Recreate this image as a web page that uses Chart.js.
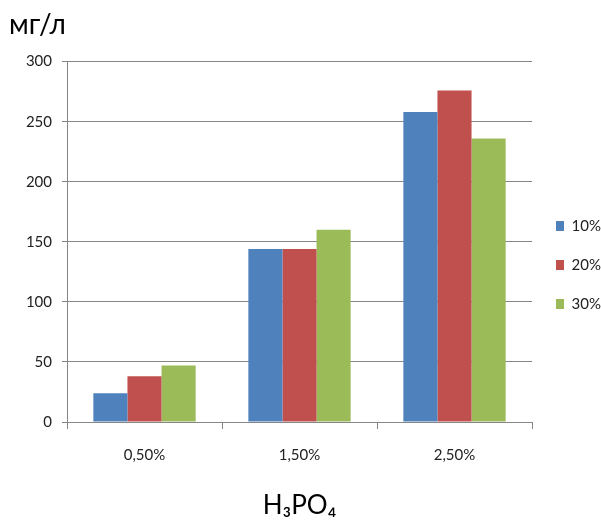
<!DOCTYPE html>
<html>
<head>
<meta charset="utf-8">
<script src="https://cdn.jsdelivr.net/npm/chart.js@4/dist/chart.umd.min.js"></script>
<style>
  html, body { margin: 0; padding: 0; background: #fff; }
  #wrap { width: 601px; height: 520px; }
</style>
</head>
<body>
<div id="wrap"><canvas id="chart"></canvas></div>
<script>
// данные диаграммы
const categories = ['0,50%', '1,50%', '2,50%'];
const seriesNames = ['10%', '20%', '30%'];
const values10 = [24, 144, 258];
const values20 = [38, 144, 276];
const values30 = [47, 160, 236];
const yTicks = [0, 50, 100, 150, 200, 250, 300];

const colors = ['#4F81BD', '#C0504D', '#9BBB59'];
const fontFamily = 'Lato, "Open Sans", "DejaVu Sans", sans-serif';
const gridColor = '#868686';

const ctx = document.getElementById('chart').getContext('2d');

new Chart(ctx, {
    type: 'bar',
    data: {
        labels: categories,
        datasets: [values10, values20, values30].map((vals, i) => ({
            label: seriesNames[i],
            data: vals,
            backgroundColor: colors[i],
            borderWidth: 0,
            barPercentage: 1,
            categoryPercentage: 0.66
        }))
    },
    options: {
        responsive: true,
        maintainAspectRatio: false,
        animation: false,
        layout: { padding: { left: 9, right: 0, top: 0, bottom: 1 } },
        plugins: {
            title: {
                display: true,
                text: 'мг/л',
                align: 'start',
                color: '#000',
                font: { family: fontFamily, size: 28, weight: 'normal' },
                padding: { top: 8, bottom: 20 }
            },
            legend: {
                position: 'right',
                maxWidth: 69,
                title: {
                    display: true,
                    text: ' ',
                    font: { size: 1, lineHeight: 1 },
                    padding: { top: 10, bottom: 0 }
                },
                labels: {
                    boxWidth: 8,
                    boxHeight: 10,
                    padding: 24,
                    color: '#222',
                    font: { family: fontFamily, size: 15, lineHeight: 0.75 }
                }
            },
            tooltip: { enabled: false }
        },
        scales: {
            x: {
                grid: {
                    offset: true,
                    drawOnChartArea: false,
                    drawTicks: true,
                    tickLength: 7,
                    color: gridColor
                },
                border: { color: gridColor },
                ticks: {
                    color: '#222',
                    padding: 17,
                    font: { family: fontFamily, size: 15 }
                },
                title: {
                    display: true,
                    text: 'H₃PO₄',
                    color: '#000',
                    font: { family: fontFamily, size: 26, lineHeight: 1 },
                    padding: { top: 12, bottom: 0 }
                }
            },
            y: {
                min: 0,
                max: 300,
                afterBuildTicks: (axis) => {
                    axis.ticks = yTicks.map(v => ({ value: v }));
                },
                afterFit: (axis) => { axis.width = 58; },
                grid: {
                    color: gridColor,
                    tickLength: 5
                },
                border: { color: gridColor },
                ticks: {
                    color: '#222',
                    padding: 10,
                    font: { family: fontFamily, size: 15 }
                }
            }
        }
    }
});
</script>
</body>
</html>
